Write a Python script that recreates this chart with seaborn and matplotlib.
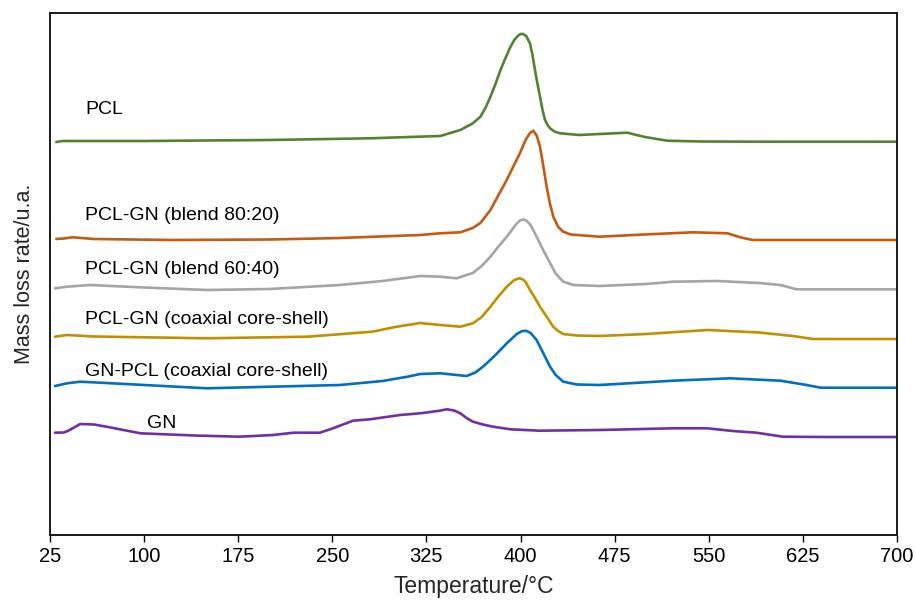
import matplotlib
matplotlib.use("Agg")
import matplotlib.pyplot as plt
import seaborn as sns
import pandas as pd

# ---- data (temperature in °C, mass loss rate in arbitrary units, stacked) ----
pcl_T = [30, 35, 50, 100, 200, 280, 336, 352, 362, 368, 372, 376, 380, 384, 388, 392, 395, 398, 400, 402,
         404.5, 407.5, 409.5, 411.5, 413.5, 415.5, 417.5, 419.5, 421.5, 423.5, 427, 431.5, 447, 463, 485,
         499, 517, 543, 600, 650, 700]
pcl_v = [393, 394, 394, 394, 395, 396.7, 399, 405, 411.7, 418.3, 427, 438.3, 451, 465, 477, 488.3, 495, 499.3, 501, 501,
         499, 491.7, 480, 465, 451, 438.3, 425, 415, 410, 406.7, 403.5, 401.7, 400, 401, 402.3,
         398, 394.3, 393.5, 393.3, 393.3, 393.3]

b8020_T = [30, 36, 43, 60, 123, 200, 256, 320, 336, 352, 362, 368, 376, 382, 389, 394, 399.6, 404, 407.5,
           410.2, 413, 415.5, 418, 420.8, 423.5, 426.1, 430, 434, 440, 463, 490, 537, 565, 575, 585, 640, 700]
b8020_v = [296, 296.5, 297.7, 296, 295, 295.5, 297, 300, 301.7, 302.7, 307, 312, 325, 339, 355, 368, 382, 395, 402,
           404.3, 399, 388.3, 370, 348.3, 331, 318.3, 308, 303.3, 300.5, 298.3, 300, 302.7, 301.7, 297.7, 295, 295, 295]

b6040_T = [29, 38.5, 57, 100, 150, 200, 256, 290, 320, 336, 349, 362, 369, 376, 382, 389, 396, 399.5, 402.2,
           405, 408, 412.8, 418, 423.5, 428, 434, 442, 463, 500, 521.5, 556.5, 590, 607, 620, 650, 700]
b6040_v = [246.7, 248.3, 250, 247.5, 245, 246, 250, 254, 259, 258.3, 256.7, 262, 269, 278.3, 288, 298.3, 310, 314.5, 315.7,
           314, 310, 298.3, 285, 272, 261.5, 253.3, 250, 249, 251, 253.3, 254, 252, 250, 245.7, 245.7, 245.7]

pclgn_T = [29, 38.5, 60, 150, 230, 282, 300, 320, 336, 352, 362, 369, 376, 382, 389, 395, 399, 402, 404,
           407.5, 411.5, 415.5, 421, 426, 430, 434, 445, 463, 500, 549, 590, 617, 633, 700]
pclgn_v = [198.3, 200, 198.5, 196.7, 198.3, 203.3, 208, 212, 210, 208.3, 211.7, 218, 228.3, 238, 248.3, 255, 256.7, 255.5, 253,
           245, 237, 228.3, 218, 208.3, 204, 201, 199.5, 199, 201, 205, 202.5, 199, 196, 196]

gnpcl_T = [29, 38.5, 49, 70, 150, 256, 290, 310, 320, 336, 357, 364, 370, 375, 380, 389, 397, 401, 404.3,
           408, 412.8, 418, 423.5, 428, 434, 445, 463, 521.5, 567, 607, 628, 639, 700]
gnpcl_v = [149, 151.7, 153.3, 152, 146.7, 150, 154, 158.3, 161, 161.7, 159, 162.5, 168.3, 174, 180, 191.7, 201, 203.8, 204.3,
           202, 195, 182, 168.3, 160, 153.3, 150.5, 150, 154.3, 156.7, 154.3, 150, 147.3, 147.3]

gn_T = [29, 36, 40, 49, 60, 70, 97, 140, 176, 203, 219, 240, 250.5, 266.5, 280, 304, 320, 334,
        341.4, 347, 352, 357, 362, 370, 378, 392, 415, 463, 521.5, 549, 569, 588, 609, 640, 700]
gn_v = [102.3, 102.5, 104.5, 111, 110.5, 108.3, 101.7, 99.5, 98.3, 100, 102.3, 102.3, 106.7, 114.3, 115.7, 120, 121.7, 124,
        125.7, 124.5, 121.7, 117, 113.3, 110.5, 108.3, 105.7, 104.3, 105, 106.7, 106.7, 104, 102.3, 98.3, 98, 98]

names = ["PCL", "PCL-GN (blend 80:20)", "PCL-GN (blend 60:40)",
         "PCL-GN (coaxial core-shell)", "GN-PCL (coaxial core-shell)", "GN"]
colors = ["#548235", "#C55A11", "#A5A5A5", "#BF9000", "#0070C0", "#7030A0"]
x_ticks = [25, 100, 175, 250, 325, 400, 475, 550, 625, 700]

series = [(pcl_T, pcl_v), (b8020_T, b8020_v), (b6040_T, b6040_v),
          (pclgn_T, pclgn_v), (gnpcl_T, gnpcl_v), (gn_T, gn_v)]

frames = []
for name, (t, v) in zip(names, series):
    frames.append(pd.DataFrame({"T": t, "v": v, "sample": name}))
df = pd.concat(frames, ignore_index=True)

# ---- style ----
sns.set_style("ticks")
plt.rcParams["font.family"] = ["Liberation Sans", "DejaVu Sans"]

fig = plt.figure(figsize=(9.15, 6.01), dpi=100)
ax = fig.add_axes([50 / 915, 1 - 535 / 601, 847 / 915, 522 / 601])

sns.lineplot(data=df, x="T", y="v", hue="sample", hue_order=names,
             palette=dict(zip(names, colors)), estimator=None, sort=False,
             linewidth=1.9, legend=False, ax=ax)
for ln in ax.get_lines():
    ln.set_solid_joinstyle("round")
    ln.set_solid_capstyle("round")

ax.set_xlim(25, 700)
ax.set_ylim(0, 522)
ax.set_xticks(x_ticks)
ax.set_xticklabels([str(t) for t in x_ticks], fontsize=14.5)
ax.set_yticks([])
ax.tick_params(axis="x", direction="out", length=5, width=1.0, pad=4, colors="black")

for s in ax.spines.values():
    s.set_visible(True)
    s.set_color("#1a1a1a")
    s.set_linewidth(1.4)

ax.set_xlabel("Temperature/°C", fontsize=16.5, labelpad=6)
ax.set_ylabel("Mass loss rate/u.a.", fontsize=15.5, labelpad=11)

# curve labels
label_pos = [(53, 425), (53, 320), (53, 266), (53, 215), (53, 163), (102, 112)]
for name, (tx, ty) in zip(names, label_pos):
    ax.text(tx, ty, name, fontsize=14, ha="left", va="center", color="black")

fig.savefig("out.png", dpi=100)
